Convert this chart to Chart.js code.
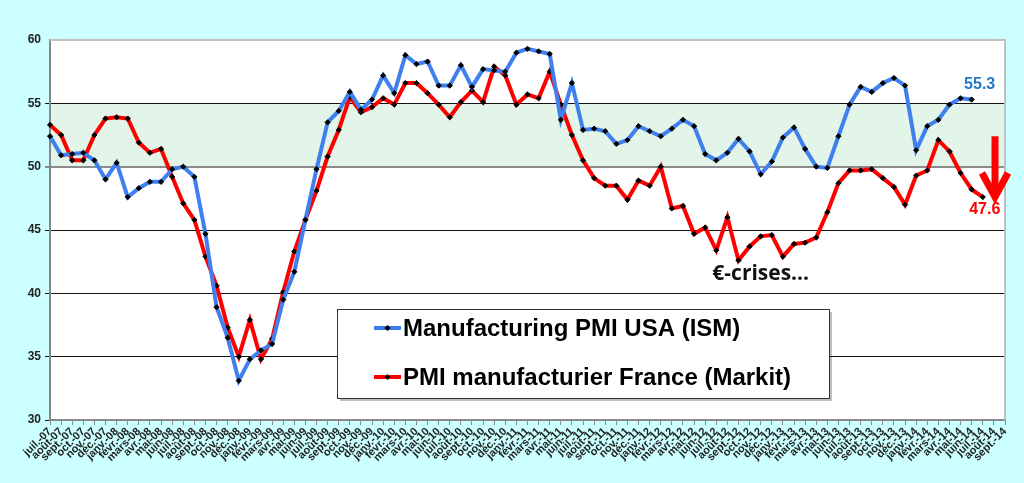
<!DOCTYPE html>
<html>
<head>
<meta charset="utf-8">
<script src="https://cdn.jsdelivr.net/npm/chart.js@4"></script>
<style>
  html, body { margin: 0; padding: 0; background: #ccffff; }
  #wrap { width: 1024px; height: 483px; }
</style>
</head>
<body>
<div id="wrap"><canvas id="pmiChart"></canvas></div>
<script>
// month names as Excel prints them in French (mmm-yy)
const monthNames = ["janv.", "févr.", "mars", "avr.", "mai", "juin", "juil.", "août", "sept.", "oct.", "nov.", "déc."];
const startYear = 2007, startMonth = 6, monthCount = 87;   // juil-07 .. sept-14

const yTicks = [30, 35, 40, 45, 50, 55, 60];

const usaIsm = [
    52.4, 50.9, 51.0, 51.1, 50.5, 49.0, 50.3, 47.6, 48.3, 48.8, 48.8, 49.8, 50.0, 49.2, 44.7, 38.9, 36.5, 33.1,
    34.8, 35.5, 36.0, 39.5, 41.7, 45.8, 49.8, 53.5, 54.4, 55.9, 54.5, 55.3, 57.2, 55.8, 58.8, 58.1, 58.3,
    56.4, 56.4, 58.0, 56.3, 57.7, 57.6, 57.5, 59.0, 59.3, 59.1, 58.9, 53.7, 56.6, 52.9, 53.0, 52.8, 51.8,
    52.1, 53.2, 52.8, 52.4, 53.0, 53.7, 53.2, 51.0, 50.5, 51.1, 52.2, 51.2, 49.4, 50.4, 52.3, 53.1, 51.4, 50.0,
    49.9, 52.4, 54.9, 56.3, 55.9, 56.6, 57.0, 56.4, 51.3, 53.2, 53.7, 54.9, 55.4, 55.3
];

const franceMarkit = [
    53.3, 52.5, 50.5, 50.5, 52.5, 53.8, 53.9, 53.8, 51.9, 51.1, 51.4, 49.2, 47.1, 45.8, 42.9, 40.6, 37.3, 35.0,
    37.9, 34.8, 36.4, 40.1, 43.3, 45.8, 48.1, 50.8, 52.9, 55.5, 54.3, 54.7, 55.4, 54.9, 56.6, 56.6, 55.8,
    54.9, 53.9, 55.1, 56.0, 55.1, 57.9, 57.2, 54.9, 55.7, 55.4, 57.5, 54.9, 52.5, 50.5, 49.1, 48.5, 48.5,
    47.4, 48.9, 48.5, 50.0, 46.7, 46.9, 44.7, 45.2, 43.4, 46.0, 42.6, 43.7, 44.5, 44.6, 42.9, 43.9, 44.0, 44.4,
    46.4, 48.7, 49.7, 49.7, 49.8, 49.1, 48.4, 47.0, 49.3, 49.7, 52.1, 51.2, 49.5, 48.2, 47.6
];

const seriesNames = ["Manufacturing PMI USA (ISM)", "PMI manufacturier France (Markit)"];
const bandLow = 50, bandHigh = 55;

const labels = [];
for (let i = 0; i < monthCount; i++) {
    const m = (startMonth + i) % 12;
    const y = startYear + Math.floor((startMonth + i) / 12);
    labels.push(monthNames[m] + "-" + String(y).slice(2));
}

const blue = "#3f80ee";
const red = "#ff0000";
const font = "'Liberation Sans', Arial, sans-serif";

// white plot area + green band between 50 and 55
const backdrop = {
    id: "backdrop",
    beforeDraw(chart) {
        const { ctx, chartArea: a, scales } = chart;
        ctx.save();
        ctx.fillStyle = "#ffffff";
        ctx.fillRect(a.left, a.top, a.right - a.left, a.bottom - a.top);
        const yTop = scales.y.getPixelForValue(bandHigh);
        const yBot = scales.y.getPixelForValue(bandLow);
        ctx.fillStyle = "#e3f4e9";
        ctx.fillRect(a.left, yTop, a.right - a.left, yBot - yTop);
        ctx.restore();
    }
};

const extras = {
    id: "extras",
    afterDraw(chart) {
        const { ctx, chartArea: a, scales } = chart;
        const xs = scales.x, ys = scales.y;
        ctx.save();

        // frame top / right
        ctx.strokeStyle = "#c0c0c0";
        ctx.lineWidth = 2;
        ctx.beginPath();
        ctx.moveTo(a.left, a.top);
        ctx.lineTo(a.right, a.top);
        ctx.lineTo(a.right, a.bottom);
        ctx.stroke();

        // last values
        const lastUs = usaIsm.length - 1, lastFr = franceMarkit.length - 1;
        ctx.font = "bold 16px " + font;
        ctx.textAlign = "center";
        ctx.textBaseline = "middle";
        ctx.fillStyle = "#1f78c8";
        ctx.fillText(usaIsm[lastUs].toFixed(1), xs.getPixelForValue(lastUs) + 8, ys.getPixelForValue(usaIsm[lastUs]) - 15);
        ctx.fillStyle = red;
        ctx.fillText(franceMarkit[lastFr].toFixed(1), xs.getPixelForValue(lastFr) + 2, ys.getPixelForValue(franceMarkit[lastFr]) + 13);

        // down arrow
        const ax = xs.getPixelForValue(lastFr + 1.1);
        const aTop = ys.getPixelForValue(52.4), aTip = ys.getPixelForValue(47.3), aHead = ys.getPixelForValue(49.5);
        ctx.strokeStyle = red;
        ctx.lineWidth = 7;
        ctx.beginPath();
        ctx.moveTo(ax, aTop);
        ctx.lineTo(ax, aTip - 8);
        ctx.stroke();
        ctx.lineWidth = 7;
        ctx.lineJoin = "miter";
        ctx.beginPath();
        ctx.moveTo(ax - 13, aHead);
        ctx.lineTo(ax, aTip - 4);
        ctx.lineTo(ax + 13, aHead);
        ctx.stroke();

        // annotation
        ctx.fillStyle = "#111";
        ctx.font = "bold 21px 'Open Sans', sans-serif";
        ctx.fillText("€-crises...", xs.getPixelForValue(64), ys.getPixelForValue(41.5));

        // legend box
        const lx = a.left + 287, ly = a.top + 269, lw = 492, lh = 89;
        ctx.fillStyle = "rgba(0,0,0,0.25)";
        ctx.fillRect(lx + 3, ly + 3, lw, lh);
        ctx.fillStyle = "#fff";
        ctx.fillRect(lx, ly, lw, lh);
        ctx.strokeStyle = "#333";
        ctx.lineWidth = 1;
        ctx.strokeRect(lx + 0.5, ly + 0.5, lw, lh);
        const colors = [blue, red];
        ctx.textAlign = "left";
        ctx.font = "bold 24px " + font;
        seriesNames.forEach((name, i) => {
            const cy = ly + 19 + i * 49;
            ctx.strokeStyle = colors[i];
            ctx.lineWidth = 4;
            ctx.beginPath();
            ctx.moveTo(lx + 37, cy);
            ctx.lineTo(lx + 64, cy);
            ctx.stroke();
            ctx.fillStyle = "#000";
            ctx.beginPath();
            ctx.moveTo(lx + 50.5, cy - 3);
            ctx.lineTo(lx + 53.5, cy);
            ctx.lineTo(lx + 50.5, cy + 3);
            ctx.lineTo(lx + 47.5, cy);
            ctx.fill();
            ctx.fillText(name, lx + 66, cy + 1);
        });
        ctx.restore();
    }
};

new Chart("pmiChart", {
    type: "line",
    data: {
        labels: labels,
        datasets: [{
            label: seriesNames[0],
            data: usaIsm,
            borderColor: blue,
            borderWidth: 4,
            pointStyle: "rectRot",
            pointRadius: 2.6,
            pointBackgroundColor: "#000",
            pointBorderColor: "#000",
            pointBorderWidth: 1,
            tension: 0
        }, {
            label: seriesNames[1],
            data: franceMarkit,
            borderColor: red,
            borderWidth: 4,
            pointStyle: "rectRot",
            pointRadius: 2.6,
            pointBackgroundColor: "#000",
            pointBorderColor: "#000",
            pointBorderWidth: 1,
            tension: 0
        }]
    },
    options: {
        responsive: true,
        maintainAspectRatio: false,
        animation: false,
        layout: { padding: { top: 40, right: 19, left: 0, bottom: 0 } },
        plugins: {
            legend: { display: false },
            tooltip: { enabled: false }
        },
        scales: {
            x: {
                offset: false,
                afterFit: s => { s.height = 63; },
                grid: { drawOnChartArea: false, color: "#888", tickLength: 5 },
                border: { color: "#888", width: 2 },
                ticks: {
                    autoSkip: false,
                    minRotation: 45,
                    maxRotation: 45,
                    padding: 0,
                    color: "#222",
                    font: { family: font, size: 11, weight: "bold" }
                }
            },
            y: {
                min: 30,
                max: 60,
                afterFit: s => { s.width = 50; },
                afterBuildTicks: s => { s.ticks = yTicks.map(v => ({ value: v })); },
                grid: {
                    tickLength: 5,
                    color: c => c.tick && c.tick.value === 50 ? "#8c8c8c" : (c.tick && c.tick.value === 60 ? "rgba(0,0,0,0)" : "#111"),
                    lineWidth: c => c.tick && c.tick.value === 50 ? 2 : 1
                },
                border: { color: "#888", width: 2 },
                ticks: {
                    padding: 4,
                    color: "#222",
                    font: { family: font, size: 12, weight: "bold" }
                }
            }
        }
    },
    plugins: [backdrop, extras]
});
</script>
</body>
</html>
